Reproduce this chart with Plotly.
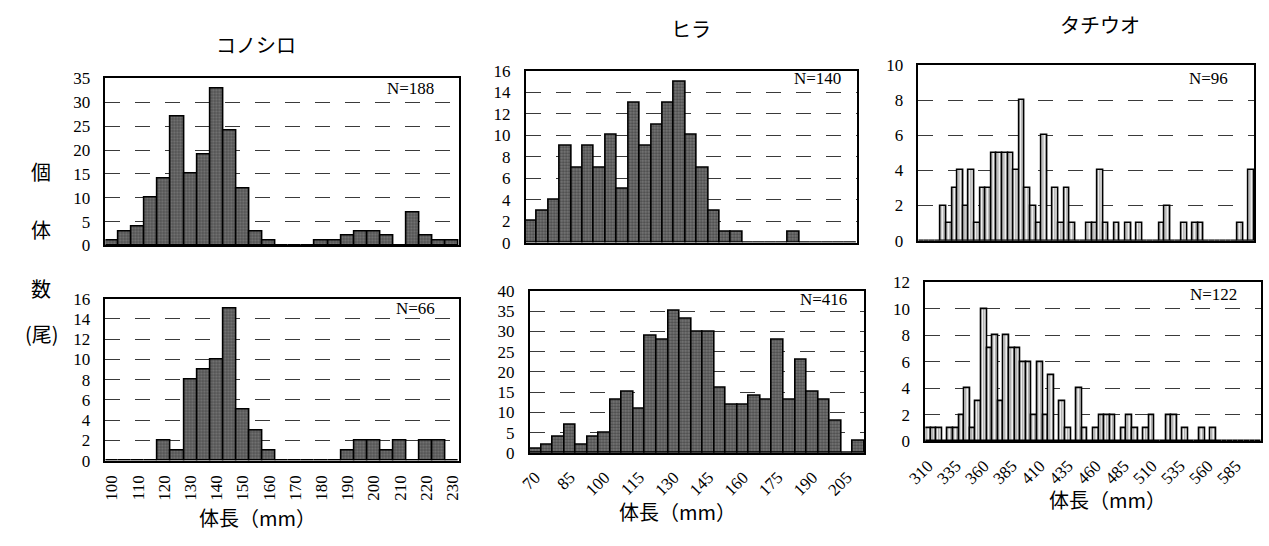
import plotly.graph_objects as go

W, H = 1269, 546

# ---------------- data ----------------
konoshiro_bins = list(range(100, 235, 5))          # 27 bins, 100..230 mm
konoshiro_top = [1, 3, 4, 10, 14, 27, 15, 19, 33, 24, 12, 3, 1, 0, 0, 0,
                 1, 1, 2, 3, 3, 2, 0, 7, 2, 1, 1]
konoshiro_bot = [0, 0, 0, 0, 2, 1, 8, 9, 10, 15, 5, 3, 1, 0, 0, 0, 0, 0,
                 1, 2, 2, 1, 2, 0, 2, 2, 0]
konoshiro_ticks = list(range(100, 240, 10))

hira_bins = list(range(70, 215, 5))                # 29 bins, 70..210 mm
hira_top = [2, 3, 4, 9, 7, 9, 7, 10, 5, 13, 9, 11, 13, 15, 10, 7, 3, 1, 1,
            0, 0, 0, 0, 1, 0, 0, 0, 0, 0]
hira_bot = [1, 2, 4, 7, 2, 4, 5, 13, 15, 11, 29, 28, 35, 33, 30, 30, 16, 12,
            12, 14, 13, 28, 13, 23, 15, 13, 8, 0, 3]
hira_ticks = list(range(70, 210, 15))

tachiuo_bins = list(range(310, 610, 5))            # 60 bins, 310..605 mm
tachiuo_top = [0, 0, 0, 0, 2, 1, 3, 4, 2, 4, 1, 3, 3, 5, 5, 5, 5, 4, 8, 3,
               2, 1, 6, 0, 3, 1, 3, 1, 0, 0, 1, 1, 4, 1, 0, 1, 0, 1, 0, 1,
               0, 0, 0, 1, 2, 0, 0, 1, 0, 1, 1, 0, 0, 0, 0, 0, 0, 1, 0, 4]
tachiuo_bot = [1, 1, 1, 0, 1, 1, 2, 4, 1, 3, 10, 7, 8, 3, 8, 7, 7, 6, 6, 2,
               6, 2, 5, 0, 3, 1, 0, 4, 1, 0, 1, 2, 2, 2, 0, 1, 2, 1, 0, 1,
               2, 0, 0, 2, 2, 0, 1, 0, 0, 1, 0, 1, 0, 0, 0, 0, 0, 0, 0, 0]
tachiuo_ticks = list(range(310, 590, 25))

species = ["コノシロ", "ヒラ", "タチウオ"]
n_labels = ["N=188", "N=66", "N=140", "N=416", "N=96", "N=122"]
x_title = "体長（mm）"
y_title_parts = ["個", "体", "数", "(尾)"]

# ---------------- style ----------------
SERIF = "Liberation Serif, DejaVu Serif, serif"
CJK = "Noto Sans CJK JP, sans-serif"

dark_marker = dict(color="#5e5e5e",
                   line=dict(color="black", width=1.6),
                   pattern=dict(shape=".", fgcolor="#111111", bgcolor="#7d7d7d",
                                size=3, solidity=0.5))
hatch_marker = dict(color="white",
                    line=dict(color="black", width=1.6),
                    pattern=dict(shape="|", fgcolor="#333333", bgcolor="white",
                                 size=3, solidity=0.45))

def px_x(v):
    return v / W

def px_y(v):
    return 1 - v / H

# (bins, counts, ymax, dtick, xdomain px, ydomain px, ticks, tickangle, marker)
panels = [
    (konoshiro_bins, konoshiro_top, 35, 5, (87, 447), (72, 245), None, 0, dark_marker),
    (konoshiro_bins, konoshiro_bot, 16, 2, (87, 447), (300, 468), konoshiro_ticks, -90, dark_marker),
    (hira_bins, hira_top, 16, 2, (515, 852), (64, 242), None, 0, dark_marker),
    (hira_bins, hira_bot, 40, 5, (519, 860), (292, 460), hira_ticks, -45, dark_marker),
    (tachiuo_bins, tachiuo_top, 10, 2, (915, 1257), (58, 240), None, 0, hatch_marker),
    (tachiuo_bins, tachiuo_bot, 12, 2, (922, 1264), (283, 448), tachiuo_ticks, -45, hatch_marker),
]

fig = go.Figure()
layout = dict(width=W, height=H, margin=dict(l=0, r=0, t=0, b=0),
              paper_bgcolor="white", plot_bgcolor="white",
              bargap=0, showlegend=False)

for i, (bins, counts, ymax, dtick, xd, yd, ticks, angle, marker) in enumerate(panels, start=1):
    sfx = "" if i == 1 else str(i)
    fig.add_trace(go.Bar(x=bins, y=counts, width=5, marker=marker,
                         xaxis="x" + sfx, yaxis="y" + sfx,
                         hoverinfo="x+y"))
    step = bins[1] - bins[0]
    xa = dict(domain=[px_x(xd[0]), px_x(xd[1])], anchor="y" + sfx,
              range=[bins[0] - step / 2, bins[-1] + step / 2],
              showline=True, mirror=True, linecolor="black", linewidth=1.6,
              showgrid=False, zeroline=False, ticks="",
              tickfont=dict(family=SERIF, size=17, color="black"))
    if ticks is None:
        xa["showticklabels"] = False
    else:
        xa.update(tickmode="array", tickvals=ticks,
                  ticktext=[str(t) for t in ticks],
                  tickangle=angle, ticklabelstandoff=6)
    ya = dict(domain=[px_y(yd[1]), px_y(yd[0])], anchor="x" + sfx,
              range=[0, ymax], dtick=dtick, tick0=0,
              showline=True, mirror=True, linecolor="black", linewidth=1.6,
              showgrid=True, gridcolor="#3a3a3a", gridwidth=1, griddash="longdash",
              zeroline=False, ticks="", ticklabelstandoff=10,
              tickfont=dict(family=SERIF, size=17, color="black"))
    layout["xaxis" + sfx] = xa
    layout["yaxis" + sfx] = ya

fig.update_layout(**layout)

ann = []

def add_text(text, x, y, font):
    ann.append(dict(text=text, x=px_x(x), y=px_y(y), xref="paper", yref="paper",
                    xanchor="center", yanchor="middle", showarrow=False, font=font))

# species titles
for text, (x, y) in zip(species, [(240, 37), (683, 20), (1100, 16)]):
    add_text(text, x, y, dict(family=CJK, size=20, color="black"))
# N labels
for text, (x, y) in zip(n_labels, [(398, 82), (403, 310), (812, 72),
                                   (818, 301), (1210, 72), (1216, 296)]):
    add_text(text, x, y, dict(family=SERIF, size=17, color="black"))
# x titles
for (x, y) in [(242, 527), (670, 521), (1108, 508)]:
    add_text(x_title, x, y, dict(family=CJK, size=20, color="black"))
# vertical y title
for text, (x, y) in zip(y_title_parts, [(21, 168), (21, 228), (21, 290), (22, 336)]):
    add_text(text, x, y, dict(family=CJK, size=20, color="black"))

fig.update_layout(annotations=ann)
fig.write_html("out.html")
